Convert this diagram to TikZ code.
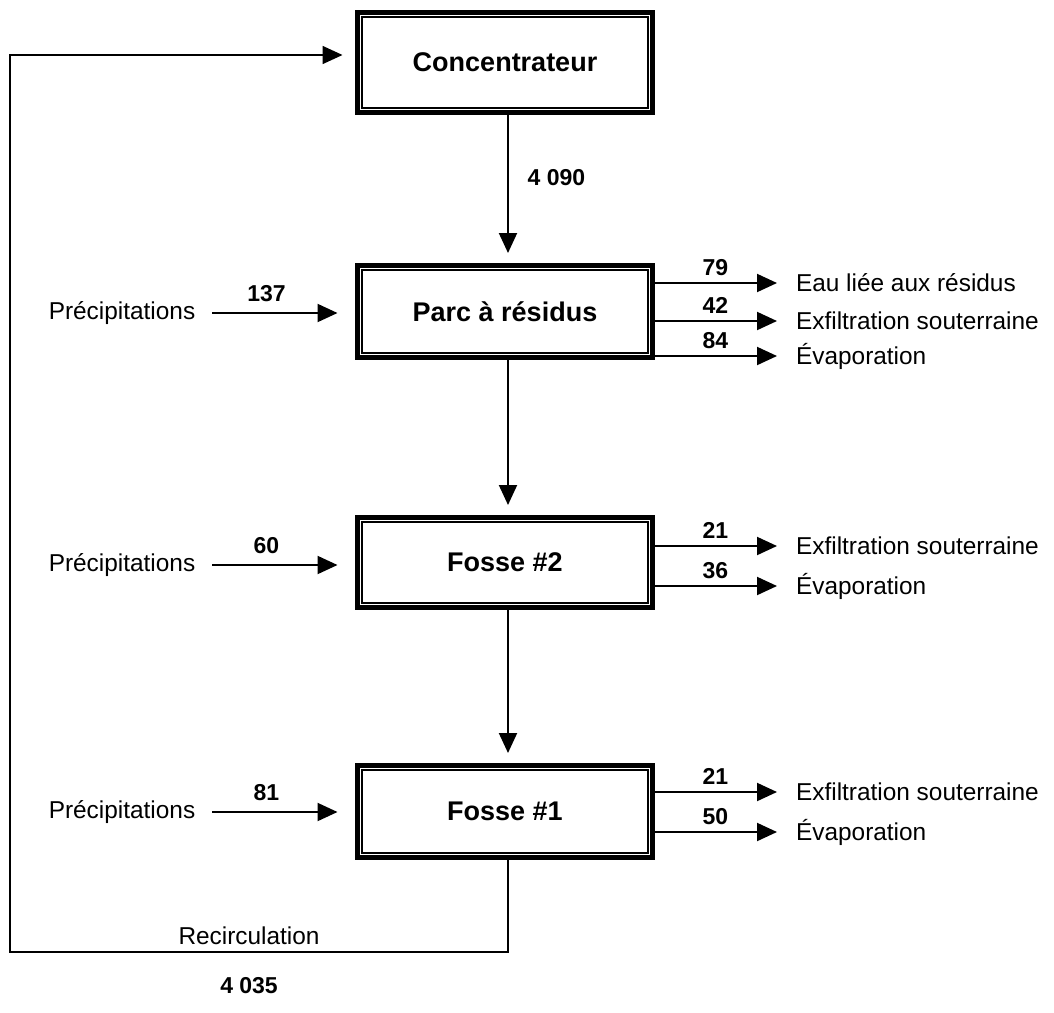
\documentclass[tikz,border=0pt]{standalone}
\usepackage{fontspec}
\setmainfont{Liberation Sans}
\usetikzlibrary{arrows.meta}
\begin{document}
\begin{tikzpicture}[
  x=0.5pt, y=-0.5pt,
  bassin/.style={rectangle, draw, line width=2.5pt, minimum width=147.5pt, minimum height=46pt, font=\fontsize{13.5}{16}\selectfont\bfseries},
  fleche/.style={-{Triangle[length=10pt,width=9pt]}, line width=1pt},
  debit/.style={font=\fontsize{11.5}{14}\selectfont\bfseries},
  txt/.style={font=\fontsize{12.2}{14}\selectfont},
]
\useasboundingbox (0,0) rectangle (1054,1012);

\node[bassin, minimum height=50pt] (conc) at (505,62.5) {Concentrateur};
\node[bassin] (parc) at (505,311.5) {Parc à résidus};
\node[bassin, minimum height=45pt] (fosse2) at (505,562.5) {Fosse \#2};
\node[bassin] (fosse1) at (505,811.5) {Fosse \#1};

% cadre interieur
\foreach \b in {conc,parc,fosse2,fosse1}
  \draw[line width=0.9pt] ([shift={(3.6pt,-3.6pt)}]\b.north west) rectangle ([shift={(-3.6pt,3.6pt)}]\b.south east);

\node[txt] (pr1) at (122,313) {Précipitations};
\node[txt] (pr2) at (122,565) {Précipitations};
\node[txt] (pr3) at (122,812) {Précipitations};

\node[txt, anchor=west] (eau) at (789,283) {Eau liée aux résidus};
\node[txt, anchor=west] (exf1) at (789,321) {Exfiltration souterraine};
\node[txt, anchor=west] (eva1) at (789,356) {Évaporation};
\node[txt, anchor=west] (exf2) at (789,546) {Exfiltration souterraine};
\node[txt, anchor=west] (eva2) at (789,586) {Évaporation};
\node[txt, anchor=west] (exf3) at (789,792) {Exfiltration souterraine};
\node[txt, anchor=west] (eva3) at (789,832) {Évaporation};

\coordinate (axe) at (508,0);
\coordinate (rb) at (508,952);
\coordinate (lb) at (10,952);
\coordinate (lt) at (10,55);

% entrees
\draw[fleche, shorten <=5pt, shorten >=8.75pt] (pr1.east) -- node[debit, above=2pt, pos=0.42] {137} (pr1.east -| parc.west);
\draw[fleche, shorten <=5pt, shorten >=8.75pt] (pr2.east) -- node[debit, above=2pt, pos=0.42] {60} (pr2.east -| fosse2.west);
\draw[fleche, shorten <=5pt, shorten >=8.75pt] (pr3.east) -- node[debit, above=2pt, pos=0.42] {81} (pr3.east -| fosse1.west);

% sorties
\draw[fleche, shorten >=6pt] (parc.east |- eau) -- node[debit, above, pos=0.45] {79} (eau.west);
\draw[fleche, shorten >=6pt] (parc.east |- exf1) -- node[debit, above, pos=0.45] {42} (exf1.west);
\draw[fleche, shorten >=6pt] (parc.east |- eva1) -- node[debit, above, pos=0.45] {84} (eva1.west);
\draw[fleche, shorten >=6pt] (fosse2.east |- exf2) -- node[debit, above, pos=0.45] {21} (exf2.west);
\draw[fleche, shorten >=6pt] (fosse2.east |- eva2) -- node[debit, above, pos=0.45] {36} (eva2.west);
\draw[fleche, shorten >=6pt] (fosse1.east |- exf3) -- node[debit, above, pos=0.45] {21} (exf3.west);
\draw[fleche, shorten >=6pt] (fosse1.east |- eva3) -- node[debit, above, pos=0.45] {50} (eva3.west);

% chaine verticale
\draw[fleche, shorten >=5pt] (conc.south -| axe) -- node[debit, right=6pt, pos=0.42] {4 090} (parc.north -| axe);
\draw[fleche, shorten >=5pt] (parc.south -| axe) -- (fosse2.north -| axe);
\draw[fleche, shorten >=5pt] (fosse2.south -| axe) -- (fosse1.north -| axe);

% recirculation
\draw[fleche, line width=0.8pt, shorten >=6.25pt] (fosse1.south -| rb) -- (rb)
  -- node[txt, above, pos=0.52] {Recirculation} node[debit, below=9pt, pos=0.52] {4 035} (lb)
  -- (lt) -- (lt -| conc.west);
\end{tikzpicture}
\end{document}
